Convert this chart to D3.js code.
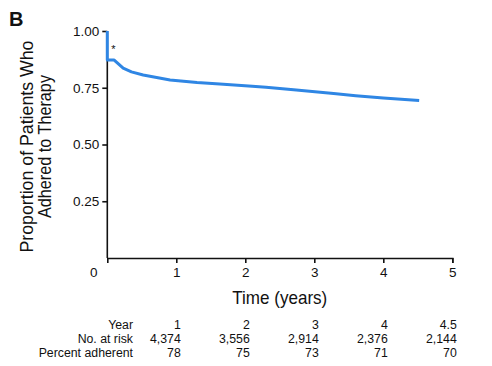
<!DOCTYPE html>
<html><head><meta charset="utf-8">
<script src="https://cdn.jsdelivr.net/npm/d3@7/dist/d3.min.js"></script>
<style>
body{margin:0;background:#fff;}
text{font-family:"Liberation Sans",Arial,sans-serif;fill:#111;}
</style></head>
<body>
<svg id="c" width="492" height="366"></svg>
<script>
// Data
const curveTime = [0, 0, 0.10, 0.23, 0.35, 0.52, 0.91, 1.30, 1.63, 2.10, 2.30, 2.70, 3.28, 3.60, 4.00, 4.52];
const curveProp = [1.00, 0.872, 0.872, 0.836, 0.820, 0.806, 0.784, 0.773, 0.767, 0.757, 0.752, 0.741, 0.725, 0.715, 0.705, 0.694];
const xTicks = [0, 1, 2, 3, 4, 5];
const yTicks = [0.25, 0.50, 0.75, 1.00];
const tableYears = ["1", "2", "3", "4", "4.5"];
const atRisk = ["4,374", "3,556", "2,914", "2,376", "2,144"];
const pctAdherent = ["78", "75", "73", "71", "70"];
const rowLabels = ["Year", "No. at risk", "Percent adherent"];

const svg = d3.select("#c");
const x = d3.scaleLinear().domain([0, 5]).range([107.3, 452.3]);
const y = d3.scaleLinear().domain([0, 1]).range([258, 31]);

// Panel letter
svg.append("text").attr("x", 9).attr("y", 25.5).attr("font-size", 20).attr("font-weight", "bold").text("B");

// Y axis
const yAxis = svg.append("g").attr("transform", `translate(${x(0)},0)`)
  .call(d3.axisLeft(y).tickValues(yTicks).tickFormat(d3.format(".2f")).tickSizeOuter(0).tickSize(5).tickPadding(3));
yAxis.select(".domain").attr("d", `M0,${y(1)}V${y(0)}`);
yAxis.selectAll("path,line").attr("stroke", "#111").attr("stroke-width", 1.6);
yAxis.selectAll("text").attr("font-size", 13.5).attr("font-family", "Liberation Sans, Arial, sans-serif").attr("fill", "#111");

// X axis
const xAxis = svg.append("g").attr("transform", `translate(0,${y(0)})`)
  .call(d3.axisBottom(x).tickValues(xTicks).tickFormat(d3.format("d")).tickSizeOuter(0).tickSize(5).tickPadding(4));
xAxis.selectAll("path,line").attr("stroke", "#111").attr("stroke-width", 1.6);
xAxis.selectAll("text").attr("font-size", 13.5).attr("font-family", "Liberation Sans, Arial, sans-serif").attr("fill", "#111");
xAxis.selectAll(".tick").filter(d => d === 0).select("text").attr("x", -14);
xAxis.selectAll(".tick").filter(d => d === 0).select("line").remove();

// Axis titles (condensed look via textLength)
const midY = (y(0) + y(1)) / 2 + 2;
svg.append("text").attr("transform", `translate(33,${midY}) rotate(-90)`)
  .attr("text-anchor", "middle").attr("font-size", 19)
  .attr("textLength", 212).attr("lengthAdjust", "spacingAndGlyphs").text("Proportion of Patients Who");
svg.append("text").attr("transform", `translate(50.5,${midY}) rotate(-90)`)
  .attr("text-anchor", "middle").attr("font-size", 19)
  .attr("textLength", 143).attr("lengthAdjust", "spacingAndGlyphs").text("Adhered to Therapy");
svg.append("text").attr("x", 232.3).attr("y", 304).attr("font-size", 18.5)
  .attr("textLength", 95).attr("lengthAdjust", "spacingAndGlyphs").text("Time (years)");

// Curve
const pts = curveTime.map((t, i) => [t, curveProp[i]]);
svg.append("path").datum(pts)
  .attr("fill", "none").attr("stroke", "#2f86e4").attr("stroke-width", 3).attr("stroke-linejoin", "round")
  .attr("d", d3.line().x(d => x(d[0])).y(d => y(d[1])));

// Asterisk
svg.append("text").attr("x", x(0) + 4).attr("y", y(0.87) - 8).attr("font-size", 11).text("*");

// Table
const rows = [tableYears, atRisk, pctAdherent];
const rowY = [329, 343, 357];
rowLabels.forEach((lab, r) => {
  svg.append("text").attr("x", 133).attr("y", rowY[r]).attr("text-anchor", "end").attr("font-size", 12.3).text(lab);
  rows[r].forEach((v, c) => {
    svg.append("text").attr("x", x(c + 1) + 4.5).attr("y", rowY[r]).attr("text-anchor", "end").attr("font-size", 12.3).text(v);
  });
});
</script>
</body></html>
